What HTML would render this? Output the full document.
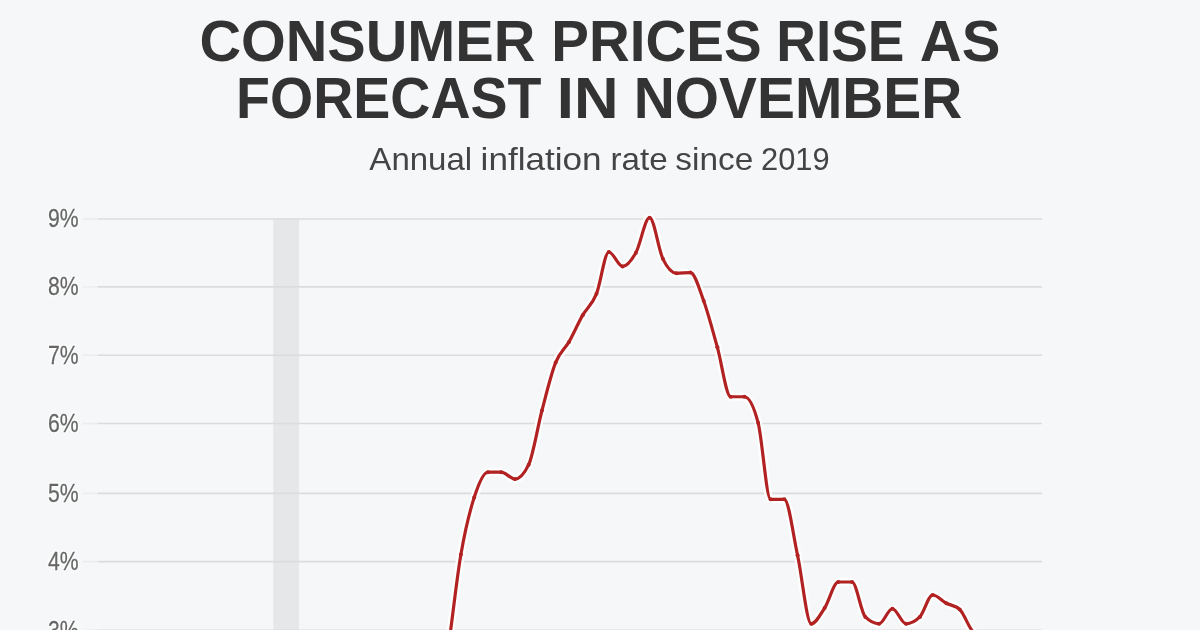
<!DOCTYPE html>
<html><head><meta charset="utf-8"><style>
html,body{margin:0;padding:0;background:#f6f7f9;}
body{width:1200px;height:630px;overflow:hidden;position:relative;}
svg{position:absolute;left:0;top:0;display:block;will-change:transform}
.t{font-family:"Liberation Sans",sans-serif;font-weight:700;fill:#333;font-size:58px}
.s{font-family:"Liberation Sans",sans-serif;fill:#444;font-size:32px}
.yl{font-family:"Liberation Sans",sans-serif;fill:#666;font-size:26.5px;text-anchor:end;stroke:#666;stroke-width:.25px}
.yh{font-family:"Liberation Sans",sans-serif;fill:none;font-size:26.5px;text-anchor:end;stroke:#fff;stroke-width:3.5px;stroke-opacity:.7;stroke-linejoin:round}
.g{stroke:#dcdcdc;stroke-width:1.6}
.gt{stroke:#ececec;stroke-width:1.6}
</style></head><body>
<svg width="1200" height="630" viewBox="0 0 1200 630">
<rect x="0" y="0" width="1200" height="630" fill="#f6f7f9"/>
<text class="t" x="199.39" y="61.00" textLength="335.94" lengthAdjust="spacingAndGlyphs">CONSUMER</text>
<text class="t" x="551.29" y="61.00" textLength="210.32" lengthAdjust="spacingAndGlyphs">PRICES</text>
<text class="t" x="776.25" y="61.00" textLength="128.11" lengthAdjust="spacingAndGlyphs">RISE</text>
<text class="t" x="919.76" y="61.00" textLength="80.57" lengthAdjust="spacingAndGlyphs">AS</text>
<text class="t" x="236.09" y="117.80" textLength="305.35" lengthAdjust="spacingAndGlyphs">FORECAST</text>
<text class="t" x="556.76" y="117.80" textLength="61.71" lengthAdjust="spacingAndGlyphs">IN</text>
<text class="t" x="633.79" y="117.80" textLength="328.51" lengthAdjust="spacingAndGlyphs">NOVEMBER</text>
<text class="s" x="369.38" y="170.00" textLength="102.77" lengthAdjust="spacingAndGlyphs">Annual</text>
<text class="s" x="480.60" y="170.00" textLength="121.02" lengthAdjust="spacingAndGlyphs">inflation</text>
<text class="s" x="610.47" y="170.00" textLength="57.21" lengthAdjust="spacingAndGlyphs">rate</text>
<text class="s" x="675.34" y="170.00" textLength="77.88" lengthAdjust="spacingAndGlyphs">since</text>
<text class="s" x="761.00" y="170.00" textLength="68.62" lengthAdjust="spacingAndGlyphs">2019</text>

<rect x="273.2" y="218.6" width="25.9" height="412" fill="#e6e7e9"/>
<line x1="98" x2="1042" y1="630.20" y2="630.20" class="g"/><line x1="83" x2="98" y1="630.20" y2="630.20" class="gt"/><line x1="98" x2="1042" y1="561.60" y2="561.60" class="g"/><line x1="83" x2="98" y1="561.60" y2="561.60" class="gt"/><line x1="98" x2="1042" y1="493.40" y2="493.40" class="g"/><line x1="83" x2="98" y1="493.40" y2="493.40" class="gt"/><line x1="98" x2="1042" y1="423.50" y2="423.50" class="g"/><line x1="83" x2="98" y1="423.50" y2="423.50" class="gt"/><line x1="98" x2="1042" y1="355.20" y2="355.20" class="g"/><line x1="83" x2="98" y1="355.20" y2="355.20" class="gt"/><line x1="98" x2="1042" y1="286.90" y2="286.90" class="g"/><line x1="83" x2="98" y1="286.90" y2="286.90" class="gt"/><line x1="98" x2="1042" y1="219.00" y2="219.00" class="g"/><line x1="83" x2="98" y1="219.00" y2="219.00" class="gt"/>
<text class="yh" transform="translate(78.6 638.50) scale(0.8 1)">3%</text><text class="yl" transform="translate(78.6 638.50) scale(0.8 1)">3%</text><text class="yh" transform="translate(78.6 569.90) scale(0.8 1)">4%</text><text class="yl" transform="translate(78.6 569.90) scale(0.8 1)">4%</text><text class="yh" transform="translate(78.6 501.70) scale(0.8 1)">5%</text><text class="yl" transform="translate(78.6 501.70) scale(0.8 1)">5%</text><text class="yh" transform="translate(78.6 431.80) scale(0.8 1)">6%</text><text class="yl" transform="translate(78.6 431.80) scale(0.8 1)">6%</text><text class="yh" transform="translate(78.6 363.50) scale(0.8 1)">7%</text><text class="yl" transform="translate(78.6 363.50) scale(0.8 1)">7%</text><text class="yh" transform="translate(78.6 295.20) scale(0.8 1)">8%</text><text class="yl" transform="translate(78.6 295.20) scale(0.8 1)">8%</text><text class="yh" transform="translate(78.6 227.30) scale(0.8 1)">9%</text><text class="yl" transform="translate(78.6 227.30) scale(0.8 1)">9%</text>
<path d="M97.20,729.47C101.78,730.50,106.36,731.53,110.93,731.53C115.07,731.53,119.20,713.66,123.34,708.20C127.91,702.16,132.49,698.60,137.07,698.60C141.50,698.60,145.93,709.04,150.36,713.01C154.94,717.10,159.51,722.61,164.09,722.61C168.52,722.61,172.95,711.63,177.38,711.63C181.96,711.63,186.54,714.61,191.11,715.75C195.69,716.89,200.27,718.49,204.85,718.49C209.28,718.49,213.70,717.35,218.13,715.06C222.71,712.70,227.29,701.31,231.87,695.17C236.30,689.22,240.73,683.67,245.16,678.71C249.73,673.57,254.31,664.99,258.89,664.99C263.47,664.99,268.04,668.64,272.62,675.96C276.90,682.81,281.19,708.31,285.47,730.16C290.05,753.51,294.62,803.24,299.20,813.16C303.63,822.77,308.06,827.57,312.49,827.57C317.07,827.57,321.65,801.25,326.22,791.21C330.65,781.49,335.08,775.32,339.51,767.89C344.09,760.20,348.67,748.68,353.25,745.93C357.82,743.19,362.40,741.82,366.98,741.82C371.41,741.82,375.84,754.41,380.27,754.85C384.84,755.31,389.42,755.54,394.00,755.54C398.43,755.54,402.86,744.27,407.29,742.50C411.87,740.67,416.44,741.59,421.02,739.76C425.60,737.93,430.18,733.36,434.75,720.55C438.89,708.99,443.02,680.54,447.16,654.70C451.74,626.08,456.31,580.93,460.89,554.54C465.32,529.01,469.75,511.27,474.18,497.60C478.76,483.47,483.33,472.22,487.91,472.22C492.34,472.22,496.77,472.22,501.20,472.22C505.78,472.22,510.36,479.08,514.93,479.08C519.51,479.08,524.09,474.28,528.67,464.67C533.10,455.38,537.53,427.28,541.96,410.48C546.53,393.12,551.11,373.93,555.69,362.46C560.12,351.36,564.55,349.61,568.98,341.88C573.56,333.89,578.13,323.13,582.71,315.13C587.29,307.12,591.87,305.34,596.44,293.86C600.58,283.49,604.71,252.01,608.85,252.01C613.42,252.01,618.00,266.42,622.58,266.42C627.01,266.42,631.44,260.57,635.87,252.70C640.45,244.56,645.02,217.71,649.60,217.71C654.03,217.71,658.46,249.62,662.89,258.87C667.47,268.44,672.05,273.28,676.62,273.28C681.20,273.28,685.78,272.59,690.36,272.59C694.79,272.59,699.22,288.55,703.65,300.72C708.22,313.29,712.80,331.07,717.38,347.37C721.81,363.14,726.24,396.76,730.67,396.76C735.25,396.76,739.82,396.76,744.40,396.76C748.98,396.76,753.56,405.45,758.13,422.83C762.27,438.52,766.40,499.32,770.54,499.32C775.11,499.32,779.69,499.32,784.27,499.32C788.70,499.32,793.13,534.87,797.56,555.23C802.14,576.26,806.71,623.83,811.29,623.83C815.72,623.83,820.15,614.86,824.58,608.05C829.16,601.01,833.74,581.98,838.31,581.98C842.89,581.98,847.47,581.98,852.05,581.98C856.48,581.98,860.91,612.54,865.34,616.97C869.91,621.54,874.49,623.83,879.07,623.83C883.50,623.83,887.93,608.73,892.36,608.73C896.93,608.73,901.51,623.83,906.09,623.83C910.67,623.83,915.24,621.54,919.82,616.97C924.10,612.69,928.39,595.01,932.67,595.01C937.25,595.01,941.82,600.82,946.40,603.25C950.83,605.60,955.26,605.30,959.69,609.42C964.27,613.67,968.85,628.28,973.42,632.06C977.85,635.72,982.28,633.89,986.71,637.55C991.29,641.33,995.87,658.13,1000.45,662.24C1005.02,666.36,1009.60,668.42,1014.18,668.42C1018.61,668.42,1023.04,660.93,1027.47,657.44C1032.04,653.83,1036.62,650.49,1041.20,647.15" fill="none" stroke="#fff" stroke-opacity=".8" stroke-width="8" stroke-linejoin="round"/>
<g>
<path d="M97.20,729.47C101.78,730.50,106.36,731.53,110.93,731.53C115.07,731.53,119.20,713.66,123.34,708.20C127.91,702.16,132.49,698.60,137.07,698.60C141.50,698.60,145.93,709.04,150.36,713.01C154.94,717.10,159.51,722.61,164.09,722.61C168.52,722.61,172.95,711.63,177.38,711.63C181.96,711.63,186.54,714.61,191.11,715.75C195.69,716.89,200.27,718.49,204.85,718.49C209.28,718.49,213.70,717.35,218.13,715.06C222.71,712.70,227.29,701.31,231.87,695.17C236.30,689.22,240.73,683.67,245.16,678.71C249.73,673.57,254.31,664.99,258.89,664.99C263.47,664.99,268.04,668.64,272.62,675.96C276.90,682.81,281.19,708.31,285.47,730.16C290.05,753.51,294.62,803.24,299.20,813.16C303.63,822.77,308.06,827.57,312.49,827.57C317.07,827.57,321.65,801.25,326.22,791.21C330.65,781.49,335.08,775.32,339.51,767.89C344.09,760.20,348.67,748.68,353.25,745.93C357.82,743.19,362.40,741.82,366.98,741.82C371.41,741.82,375.84,754.41,380.27,754.85C384.84,755.31,389.42,755.54,394.00,755.54C398.43,755.54,402.86,744.27,407.29,742.50C411.87,740.67,416.44,741.59,421.02,739.76C425.60,737.93,430.18,733.36,434.75,720.55C438.89,708.99,443.02,680.54,447.16,654.70C451.74,626.08,456.31,580.93,460.89,554.54C465.32,529.01,469.75,511.27,474.18,497.60C478.76,483.47,483.33,472.22,487.91,472.22C492.34,472.22,496.77,472.22,501.20,472.22C505.78,472.22,510.36,479.08,514.93,479.08C519.51,479.08,524.09,474.28,528.67,464.67C533.10,455.38,537.53,427.28,541.96,410.48C546.53,393.12,551.11,373.93,555.69,362.46C560.12,351.36,564.55,349.61,568.98,341.88C573.56,333.89,578.13,323.13,582.71,315.13C587.29,307.12,591.87,305.34,596.44,293.86C600.58,283.49,604.71,252.01,608.85,252.01C613.42,252.01,618.00,266.42,622.58,266.42C627.01,266.42,631.44,260.57,635.87,252.70C640.45,244.56,645.02,217.71,649.60,217.71C654.03,217.71,658.46,249.62,662.89,258.87C667.47,268.44,672.05,273.28,676.62,273.28C681.20,273.28,685.78,272.59,690.36,272.59C694.79,272.59,699.22,288.55,703.65,300.72C708.22,313.29,712.80,331.07,717.38,347.37C721.81,363.14,726.24,396.76,730.67,396.76C735.25,396.76,739.82,396.76,744.40,396.76C748.98,396.76,753.56,405.45,758.13,422.83C762.27,438.52,766.40,499.32,770.54,499.32C775.11,499.32,779.69,499.32,784.27,499.32C788.70,499.32,793.13,534.87,797.56,555.23C802.14,576.26,806.71,623.83,811.29,623.83C815.72,623.83,820.15,614.86,824.58,608.05C829.16,601.01,833.74,581.98,838.31,581.98C842.89,581.98,847.47,581.98,852.05,581.98C856.48,581.98,860.91,612.54,865.34,616.97C869.91,621.54,874.49,623.83,879.07,623.83C883.50,623.83,887.93,608.73,892.36,608.73C896.93,608.73,901.51,623.83,906.09,623.83C910.67,623.83,915.24,621.54,919.82,616.97C924.10,612.69,928.39,595.01,932.67,595.01C937.25,595.01,941.82,600.82,946.40,603.25C950.83,605.60,955.26,605.30,959.69,609.42C964.27,613.67,968.85,628.28,973.42,632.06C977.85,635.72,982.28,633.89,986.71,637.55C991.29,641.33,995.87,658.13,1000.45,662.24C1005.02,666.36,1009.60,668.42,1014.18,668.42C1018.61,668.42,1023.04,660.93,1027.47,657.44C1032.04,653.83,1036.62,650.49,1041.20,647.15" fill="none" stroke="#b22222" stroke-width="3.2" stroke-linejoin="round"/>
<circle cx="460.89" cy="554.54" r="2.0" fill="#b22222"/><circle cx="474.18" cy="497.60" r="2.0" fill="#b22222"/><circle cx="487.91" cy="472.22" r="2.0" fill="#b22222"/><circle cx="501.20" cy="472.22" r="2.0" fill="#b22222"/><circle cx="514.93" cy="479.08" r="2.0" fill="#b22222"/><circle cx="528.67" cy="464.67" r="2.0" fill="#b22222"/><circle cx="541.96" cy="410.48" r="2.0" fill="#b22222"/><circle cx="555.69" cy="362.46" r="2.0" fill="#b22222"/><circle cx="568.98" cy="341.88" r="2.0" fill="#b22222"/><circle cx="582.71" cy="315.13" r="2.0" fill="#b22222"/><circle cx="596.44" cy="293.86" r="2.0" fill="#b22222"/><circle cx="608.85" cy="252.01" r="2.0" fill="#b22222"/><circle cx="622.58" cy="266.42" r="2.0" fill="#b22222"/><circle cx="635.87" cy="252.70" r="2.0" fill="#b22222"/><circle cx="649.60" cy="217.71" r="2.0" fill="#b22222"/><circle cx="662.89" cy="258.87" r="2.0" fill="#b22222"/><circle cx="676.62" cy="273.28" r="2.0" fill="#b22222"/><circle cx="690.36" cy="272.59" r="2.0" fill="#b22222"/><circle cx="703.65" cy="300.72" r="2.0" fill="#b22222"/><circle cx="717.38" cy="347.37" r="2.0" fill="#b22222"/><circle cx="730.67" cy="396.76" r="2.0" fill="#b22222"/><circle cx="744.40" cy="396.76" r="2.0" fill="#b22222"/><circle cx="758.13" cy="422.83" r="2.0" fill="#b22222"/><circle cx="770.54" cy="499.32" r="2.0" fill="#b22222"/><circle cx="784.27" cy="499.32" r="2.0" fill="#b22222"/><circle cx="797.56" cy="555.23" r="2.0" fill="#b22222"/><circle cx="811.29" cy="623.83" r="2.0" fill="#b22222"/><circle cx="824.58" cy="608.05" r="2.0" fill="#b22222"/><circle cx="838.31" cy="581.98" r="2.0" fill="#b22222"/><circle cx="852.05" cy="581.98" r="2.0" fill="#b22222"/><circle cx="865.34" cy="616.97" r="2.0" fill="#b22222"/><circle cx="879.07" cy="623.83" r="2.0" fill="#b22222"/><circle cx="892.36" cy="608.73" r="2.0" fill="#b22222"/><circle cx="906.09" cy="623.83" r="2.0" fill="#b22222"/><circle cx="919.82" cy="616.97" r="2.0" fill="#b22222"/><circle cx="932.67" cy="595.01" r="2.0" fill="#b22222"/><circle cx="946.40" cy="603.25" r="2.0" fill="#b22222"/><circle cx="959.69" cy="609.42" r="2.0" fill="#b22222"/><circle cx="973.42" cy="632.06" r="2.0" fill="#b22222"/><circle cx="986.71" cy="637.55" r="2.0" fill="#b22222"/></g>
</svg>
</body></html>
